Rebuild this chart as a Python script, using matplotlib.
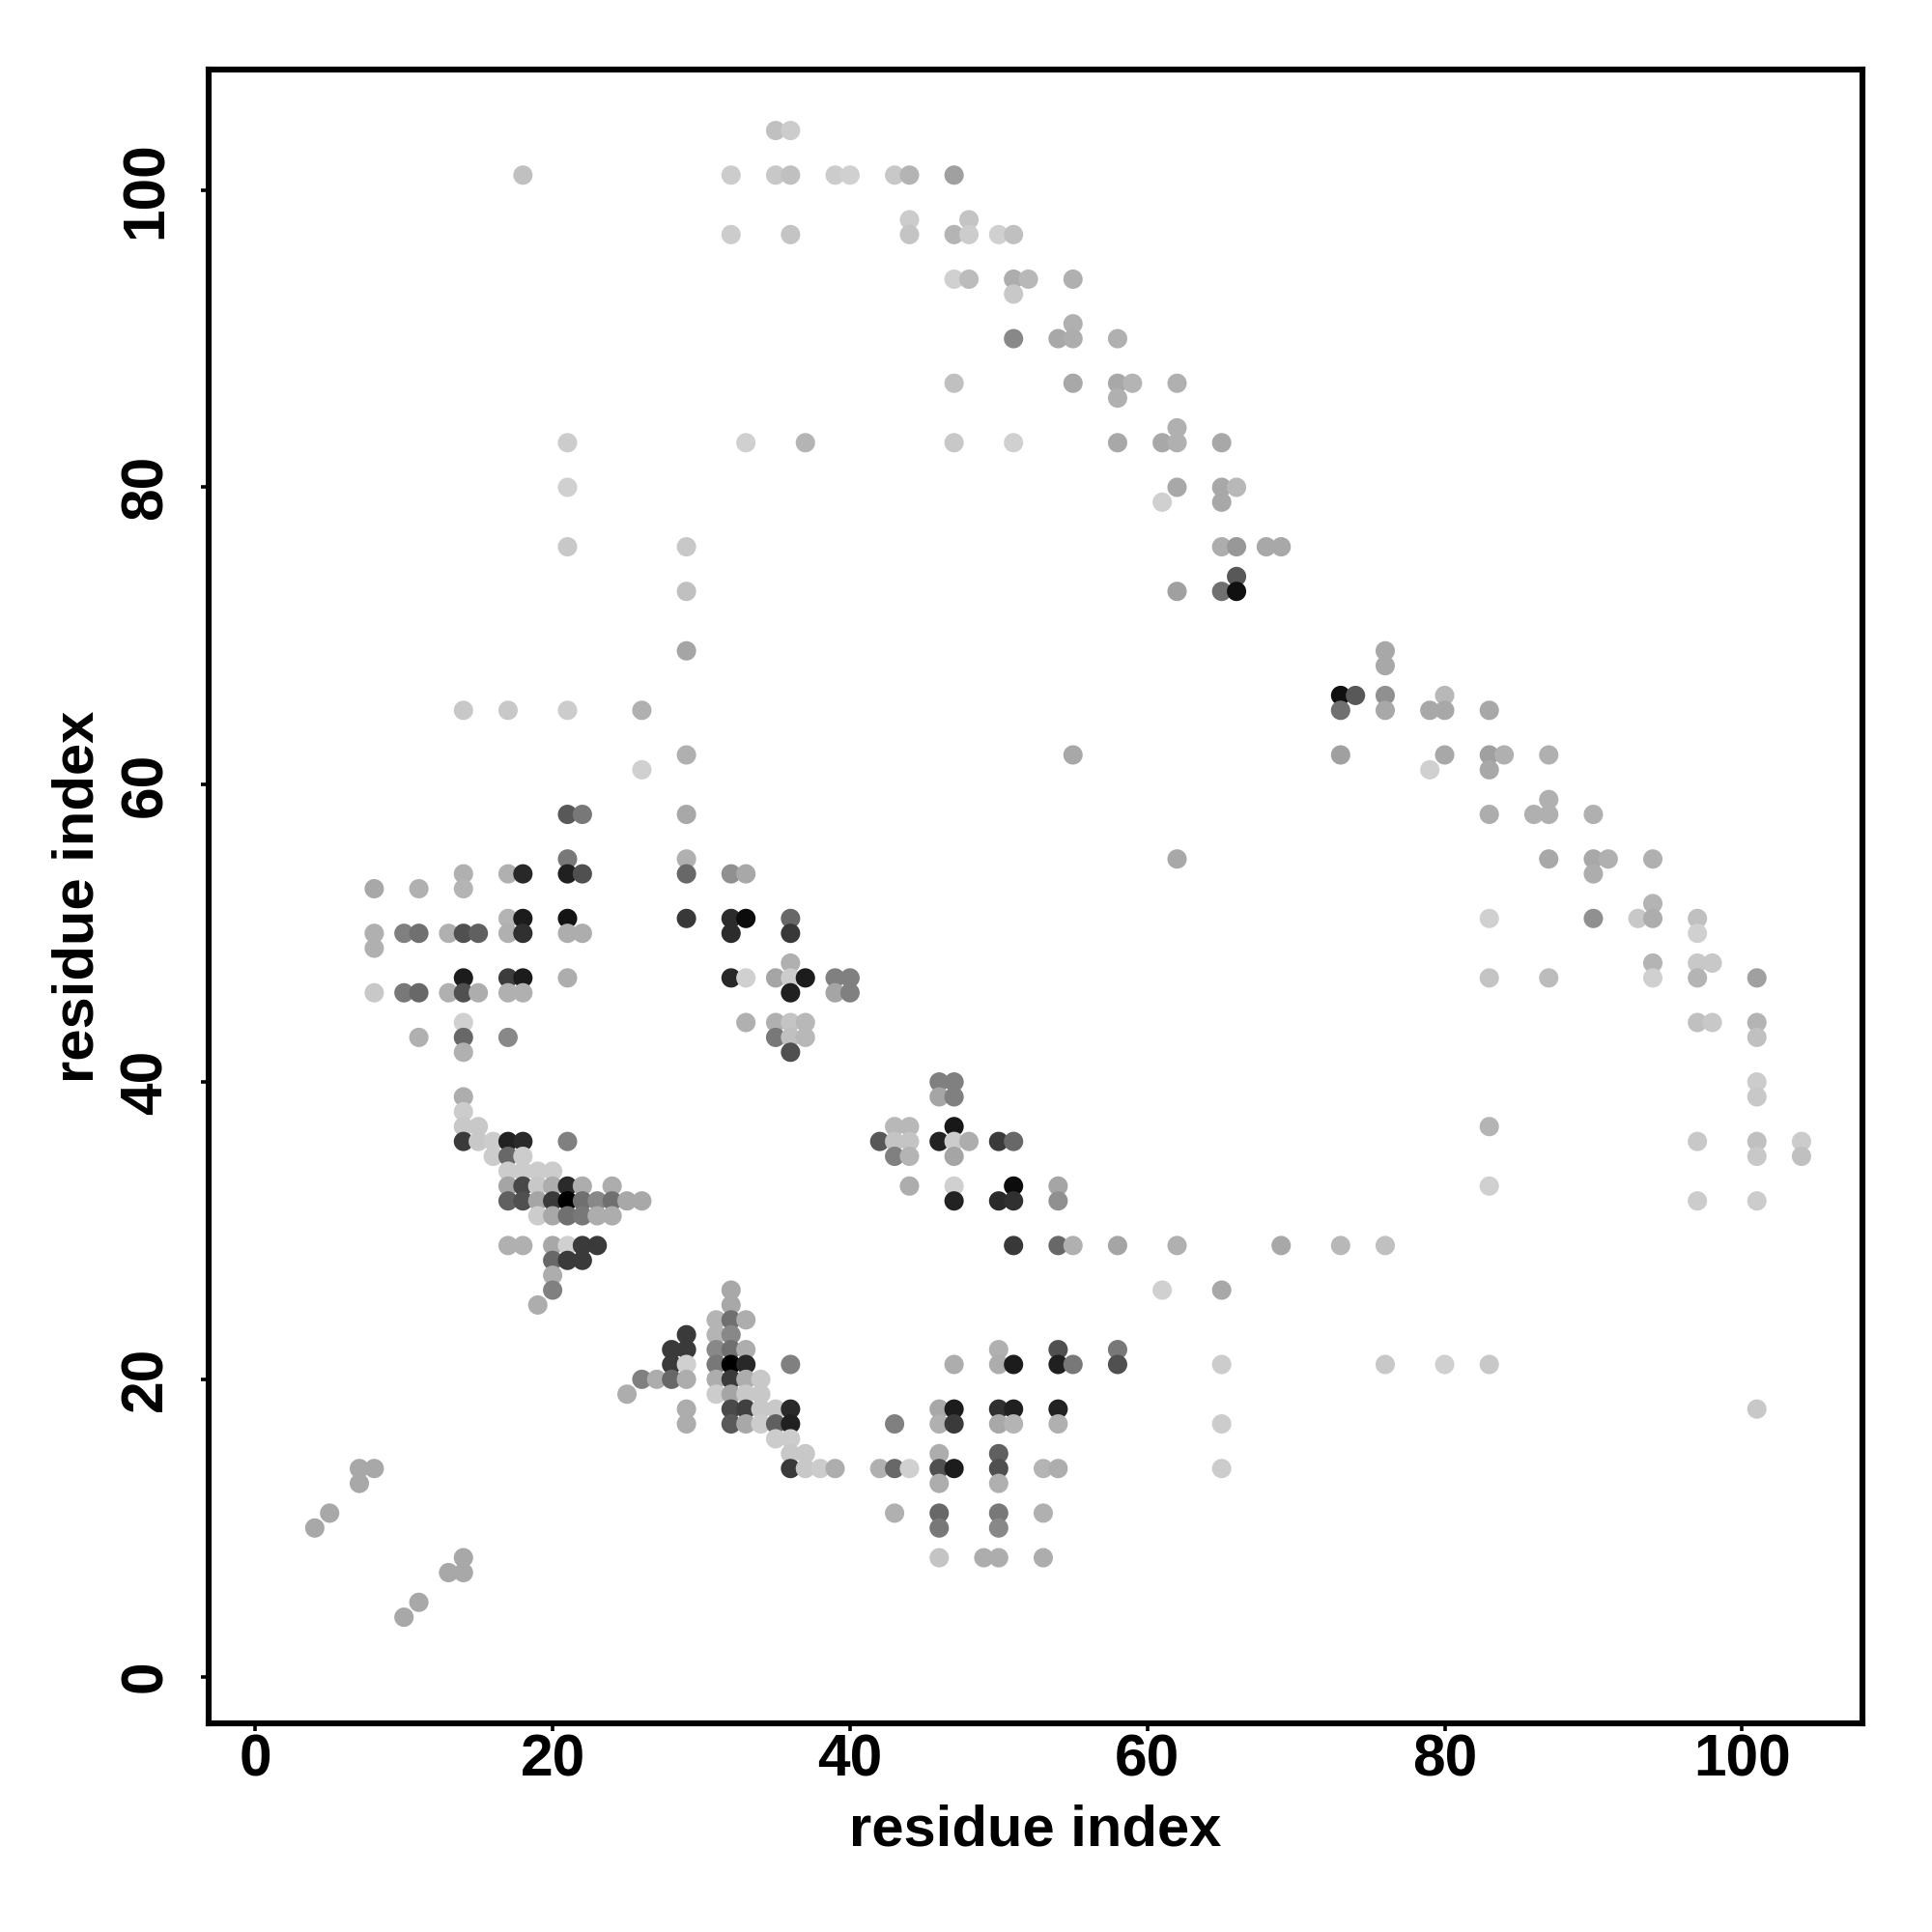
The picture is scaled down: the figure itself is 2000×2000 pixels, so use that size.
import numpy as np
import matplotlib
matplotlib.use("Agg")
import matplotlib.pyplot as plt

plt.rcParams['font.family'] = ['Liberation Sans', 'DejaVu Sans']

tick_values = [0, 20, 40, 60, 80, 100]
axis_label = "residue index"

# residue index on the vertical axis, one entry per row of points
row_y = [104, 101, 98, 97, 94, 93, 91, 90, 87, 86, 84, 83, 80, 79, 76, 74, 73, 69, 68, 66, 65,
         62, 61, 59, 58, 55, 54, 53, 52, 51, 50, 49, 48, 47, 46, 44, 43, 42, 40, 39, 38, 37,
         36, 35, 34, 33, 32, 31, 29, 28, 27, 26, 25, 24, 23, 22, 21, 20, 19, 18, 17, 16, 15,
         14, 13, 11, 10, 8, 7, 5, 4]

# residue index on the horizontal axis for every row
row_x = [
    [35, 36],
    [18, 32, 35, 36, 39, 40, 43, 44, 47],
    [44, 48],
    [32, 36, 44, 47, 48, 50, 51],
    [47, 48, 51, 52, 55],
    [51],
    [55],
    [51, 54, 55, 58],
    [47, 55, 58, 59, 62],
    [58],
    [62],
    [21, 33, 37, 47, 51, 58, 61, 62, 65],
    [21, 62, 65, 66],
    [61, 65],
    [21, 29, 65, 66, 68, 69],
    [66],
    [29, 62, 65, 66],
    [29, 76],
    [76],
    [73, 74, 76, 80],
    [14, 17, 21, 26, 73, 76, 79, 80, 83],
    [29, 55, 73, 80, 83, 84, 87],
    [26, 79, 83],
    [87],
    [21, 22, 29, 83, 86, 87, 90],
    [21, 29, 62, 87, 90, 91, 94],
    [14, 17, 18, 21, 22, 29, 32, 33, 90],
    [8, 11, 14],
    [94],
    [17, 18, 21, 29, 32, 33, 36, 83, 90, 93, 94, 97],
    [8, 10, 11, 13, 14, 15, 17, 18, 21, 22, 32, 36, 97],
    [8],
    [36, 94, 97, 98],
    [14, 17, 18, 21, 32, 33, 35, 36, 37, 39, 40, 83, 87, 94, 97, 101],
    [8, 10, 11, 13, 14, 15, 17, 18, 36, 39, 40],
    [14, 33, 35, 36, 37, 97, 98, 101],
    [11, 14, 17, 35, 36, 37, 101],
    [14, 36],
    [46, 47, 101],
    [14, 46, 47, 101],
    [14],
    [14, 15, 43, 44, 47, 83],
    [14, 15, 16, 17, 18, 21, 42, 43, 44, 46, 47, 48, 50, 51, 97, 101, 104],
    [16, 17, 18, 43, 44, 47, 101, 104],
    [17, 18, 19, 20],
    [17, 18, 19, 20, 21, 22, 24, 44, 47, 51, 54, 83],
    [17, 18, 19, 20, 21, 22, 23, 24, 25, 26, 47, 50, 51, 54, 97, 101],
    [19, 20, 21, 22, 23, 24],
    [17, 18, 20, 21, 22, 23, 51, 54, 55, 58, 62, 69, 73, 76],
    [20, 21, 22],
    [20],
    [20, 32, 61, 65],
    [19, 32],
    [31, 32, 33],
    [29, 31, 32],
    [28, 29, 31, 32, 33, 50, 54, 58],
    [28, 29, 31, 32, 33, 36, 47, 50, 51, 54, 55, 58, 65, 76, 80, 83],
    [26, 27, 28, 29, 31, 32, 33, 34],
    [25, 31, 32, 33, 34],
    [29, 32, 33, 34, 35, 36, 46, 47, 50, 51, 54, 101],
    [29, 32, 33, 34, 35, 36, 43, 46, 47, 50, 51, 54, 65],
    [35, 36],
    [36, 37, 46, 50],
    [7, 8, 36, 37, 38, 39, 42, 43, 44, 46, 47, 50, 53, 54, 65],
    [7, 46, 50],
    [5, 43, 46, 50, 53],
    [4, 46, 50],
    [14, 46, 49, 50, 53],
    [13, 14],
    [11],
    [10],
]

# grey level (0 black, 255 white) of every point, same layout as row_x
row_grey = [
    [0xC0, 0xCC],
    [0xC0, 0xCC, 0xC8, 0xC0, 0xCC, 0xD0, 0xC8, 0xB4, 0xA0],
    [0xCC, 0xC4],
    [0xCC, 0xC4, 0xC4, 0xB4, 0xCC, 0xD0, 0xC0],
    [0xD0, 0xBC, 0xAD, 0xB8, 0xB0],
    [0xC8],
    [0xB0],
    [0x88, 0xA8, 0xAD, 0xB0],
    [0xC0, 0xA8, 0xA8, 0xB4, 0xB0],
    [0xB0],
    [0xB0],
    [0xCC, 0xD0, 0xB4, 0xC8, 0xD0, 0xA8, 0xA8, 0xB0, 0xA8],
    [0xD0, 0xA8, 0xA8, 0xB8],
    [0xD0, 0xA8],
    [0xC8, 0xC8, 0xAD, 0x98, 0xA8, 0xA8],
    [0x58],
    [0xC0, 0xA0, 0x70, 0x10],
    [0xA5, 0xA8],
    [0xA8],
    [0x10, 0x58, 0x90, 0xB8],
    [0xC8, 0xC8, 0xCC, 0xB0, 0x70, 0xA8, 0xA8, 0xA8, 0xA8],
    [0xB0, 0xA8, 0xA0, 0xA8, 0xA0, 0xB0, 0xB0],
    [0xD0, 0xD0, 0xA8],
    [0xB0],
    [0x58, 0x78, 0xA8, 0xAD, 0xB0, 0xB0, 0xB0],
    [0x78, 0xB0, 0xA8, 0xA8, 0xA8, 0xB0, 0xB0],
    [0xB0, 0xB0, 0x28, 0x20, 0x50, 0x68, 0x90, 0xA8, 0xAD],
    [0xA8, 0xB0, 0xB4],
    [0xB4],
    [0xB4, 0x1C, 0x14, 0x38, 0x2C, 0x0C, 0x68, 0xD0, 0x90, 0xC8, 0xAD, 0xC0],
    [0xB0, 0x80, 0x70, 0xB0, 0x50, 0x60, 0xB0, 0x30, 0xAD, 0xAD, 0x2C, 0x38, 0xD0],
    [0xB0],
    [0xB0, 0xB4, 0xC8, 0xC8],
    [0x1C, 0x3C, 0x1C, 0xAD, 0x28, 0xD0, 0xA5, 0xCC, 0x1C, 0x80, 0x80, 0xC4, 0xBC, 0xD0, 0xB4, 0xA0],
    [0xC8, 0x78, 0x68, 0xB0, 0x50, 0xAD, 0xB0, 0xB0, 0x20, 0xA5, 0x80],
    [0xD0, 0xB0, 0xB0, 0xC4, 0xB8, 0xC0, 0xC8, 0xB4],
    [0xB0, 0x68, 0x88, 0x78, 0xC0, 0xB8, 0xC0],
    [0xB0, 0x50],
    [0x80, 0x80, 0xCC],
    [0xAD, 0xA5, 0x80, 0xC8],
    [0xCC],
    [0xC8, 0xC8, 0xB8, 0xB8, 0x18, 0xB4],
    [0x3A, 0xC8, 0xCC, 0x22, 0x2A, 0x80, 0x58, 0xC4, 0xC4, 0x22, 0xCC, 0xAD, 0x3A, 0x68, 0xC8, 0xC0, 0xCC],
    [0xCC, 0x68, 0xCC, 0x80, 0xB4, 0xA5, 0xC8, 0xC0],
    [0xCC, 0xCC, 0xCC, 0xCC],
    [0xA5, 0x48, 0xC8, 0xAD, 0x2A, 0xAD, 0xAD, 0xAD, 0xD0, 0x0C, 0xA5, 0xD0],
    [0x60, 0x50, 0xA5, 0x3A, 0x00, 0x70, 0x88, 0x70, 0xA8, 0xA8, 0x22, 0x2A, 0x30, 0x90, 0xCC, 0xCC],
    [0xCC, 0xA8, 0x70, 0x78, 0xAD, 0xAD],
    [0xB0, 0xB0, 0xA8, 0xD0, 0x3A, 0x3A, 0x38, 0x68, 0xB0, 0xA5, 0xB0, 0xA8, 0xB8, 0xC0],
    [0x68, 0x3A, 0x3A],
    [0xAD],
    [0x80, 0xA8, 0xD0, 0xA8],
    [0xAD, 0xA8],
    [0xB4, 0x70, 0xAD],
    [0x3A, 0xB4, 0x88],
    [0x3A, 0x3A, 0x88, 0x70, 0xAD, 0xB0, 0x50, 0x78],
    [0x3A, 0xD0, 0x78, 0x00, 0x28, 0x80, 0xAD, 0xAD, 0x1C, 0x20, 0x78, 0x50, 0xCC, 0xC8, 0xD0, 0xC8],
    [0x80, 0xAD, 0x68, 0xAD, 0xAD, 0x3A, 0xAD, 0xC8],
    [0xAD, 0xCC, 0xA5, 0xC8, 0xC8],
    [0xAD, 0x4A, 0x40, 0xC8, 0xC8, 0x2A, 0xA8, 0x1C, 0x30, 0x20, 0x22, 0xC8],
    [0xAD, 0x5A, 0xA8, 0xCC, 0x60, 0x20, 0x80, 0xB0, 0x3A, 0xA8, 0xB4, 0xB0, 0xCC],
    [0xCC, 0xCC],
    [0xC8, 0xC8, 0xAD, 0x60],
    [0xA8, 0xA8, 0x3A, 0xC8, 0xCC, 0xAD, 0xB0, 0x68, 0xD0, 0x50, 0x1C, 0x50, 0xB4, 0xAD, 0xCC],
    [0xA8, 0xAD, 0xB0],
    [0xA8, 0xB0, 0x68, 0x78, 0xB0],
    [0xA8, 0x78, 0x88],
    [0xA8, 0xC4, 0xAD, 0xAD, 0xAD],
    [0xA8, 0xA8],
    [0xA8],
    [0xA8],
]

xs = np.concatenate([np.asarray(r, float) for r in row_x])
ys = np.concatenate([np.full(len(r), v, float) for r, v in zip(row_x, row_y)])
greys = np.concatenate([np.asarray(g, float) for g in row_grey]) / 255.0
colors = np.column_stack([greys, greys, greys])

W = H = 2000
L, R, T, B = 215.5, 1928.0, 72.0, 1784.0
fig = plt.figure(figsize=(10, 10), dpi=200, facecolor='white')
ax = fig.add_axes([L / W, 1 - B / H, (R - L) / W, (B - T) / H])
ax.scatter(xs, ys, s=52, c=colors, linewidths=0, zorder=3)
ax.set_xlim(-3.17, 108.1)
ax.set_ylim(-3.14, 108.1)

for s in ax.spines.values():
    s.set_linewidth(2.2)
    s.set_color('black')

ax.set_xticks(tick_values)
ax.set_yticks(tick_values)
ax.set_xticklabels([str(v) for v in tick_values], fontsize=21.8, fontweight='bold')
ax.set_yticklabels([str(v) for v in tick_values], fontsize=21.8, fontweight='bold',
                   rotation=90, va='center')
ax.tick_params(axis='x', length=3, width=1.3, pad=0.8)
ax.tick_params(axis='y', length=3, width=1.3, pad=9.6)

ax.set_xlabel(axis_label, fontsize=21.5, fontweight='bold')
ax.set_ylabel(axis_label, fontsize=21.5, fontweight='bold')
ax.xaxis.set_label_coords(0.5, -(1895 - B) / (B - T), transform=ax.transAxes)
ax.xaxis.label.set_va('center')
ax.yaxis.set_label_coords(-(L - 81) / (R - L), 0.5, transform=ax.transAxes)
ax.yaxis.label.set_va('center')

fig.savefig('out.png', dpi=200, facecolor='white')
